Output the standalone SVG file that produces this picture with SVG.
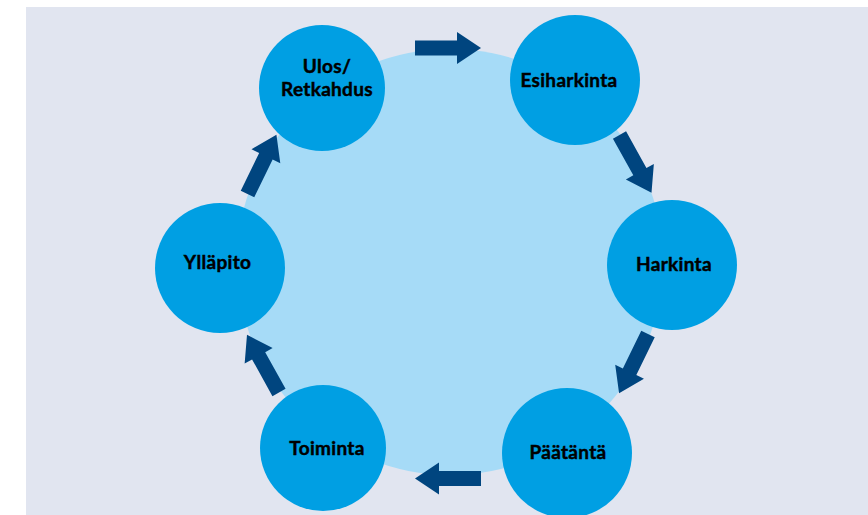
<svg xmlns="http://www.w3.org/2000/svg" width="868" height="515" viewBox="0 0 868 515">
<defs>
<style>
.bg{fill:#e1e5f0}
.hub{fill:#a6dbf7}
.node{fill:#009fe3}
.lbl{font-family:Lato,"Open Sans","Liberation Sans",sans-serif;font-weight:700;font-size:19px;letter-spacing:0.3px;fill:#000;stroke:#000;stroke-width:0.45px;text-anchor:middle}
.arr{fill:#00457f}
</style>
<path id="arrow" d="M0,-7.5 L42,-7.5 L42,-16 L66,0 L42,16 L42,7.5 L0,7.5 Z"/>
</defs>
<rect class="bg" x="26" y="7" width="842" height="508"/>
<circle class="hub" cx="450" cy="262" r="213"/>
<g id="connectors" class="arr">
<use href="#arrow" transform="translate(415,48)"/>
<use href="#arrow" transform="translate(619.5,135) rotate(61)"/>
<use href="#arrow" transform="translate(648,334) rotate(116)"/>
<use href="#arrow" transform="translate(481,478.5) rotate(180)"/>
<use href="#arrow" transform="translate(279,392.5) rotate(-119)"/>
<use href="#arrow" transform="translate(247.5,194) rotate(-64)"/>
</g>
<g id="ulos">
<circle class="node" cx="322" cy="88" r="63"/>
<text class="lbl" x="327" y="72.5">Ulos/</text>
<text class="lbl" x="327" y="95.5">Retkahdus</text>
</g>
<g id="esiharkinta">
<circle class="node" cx="575" cy="80" r="65"/>
<text class="lbl" x="569" y="87">Esiharkinta</text>
</g>
<g id="harkinta">
<circle class="node" cx="672" cy="265" r="65"/>
<text class="lbl" x="674" y="271">Harkinta</text>
</g>
<g id="paatanta">
<circle class="node" cx="567" cy="453" r="65"/>
<text class="lbl" x="568" y="459">Päätäntä</text>
</g>
<g id="toiminta">
<circle class="node" cx="323" cy="448" r="63"/>
<text class="lbl" x="327" y="455">Toiminta</text>
</g>
<g id="yllapito">
<circle class="node" cx="220" cy="268" r="65"/>
<text class="lbl" x="217.5" y="269">Ylläpito</text>
</g>
</svg>
